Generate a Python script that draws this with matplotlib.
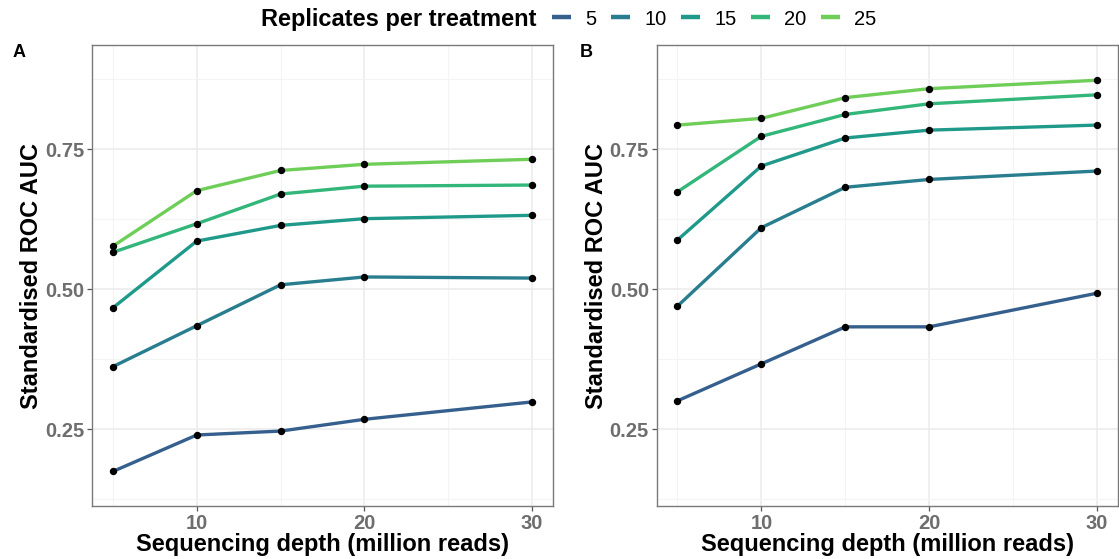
import numpy as np
import matplotlib
matplotlib.use("Agg")
import matplotlib.pyplot as plt
from matplotlib.lines import Line2D
from matplotlib.ticker import MultipleLocator
from matplotlib.offsetbox import HPacker

plt.rcParams['font.family'] = ['Liberation Sans', 'DejaVu Sans']

# sequencing depth (million reads)
depth = [5, 10, 15, 20, 30]
replicates = [5, 10, 15, 20, 25]

# standardised ROC AUC, panel A
auc_a = {
    5:  [0.175, 0.240, 0.247, 0.268, 0.299],
    10: [0.362, 0.435, 0.508, 0.522, 0.520],
    15: [0.467, 0.586, 0.614, 0.626, 0.632],
    20: [0.566, 0.617, 0.670, 0.684, 0.686],
    25: [0.577, 0.676, 0.712, 0.723, 0.732],
}
# standardised ROC AUC, panel B
auc_b = {
    5:  [0.301, 0.367, 0.433, 0.433, 0.493],
    10: [0.470, 0.610, 0.682, 0.696, 0.711],
    15: [0.588, 0.720, 0.770, 0.784, 0.793],
    20: [0.674, 0.773, 0.812, 0.831, 0.847],
    25: [0.793, 0.805, 0.842, 0.858, 0.873],
}

cols = [plt.cm.viridis(v) for v in np.linspace(0.3, 0.78, len(replicates))]

fig = plt.figure(figsize=(11.19, 5.59), dpi=100)
ax_a = fig.add_axes([0.0822, 0.094, 0.412, 0.8256])
ax_b = fig.add_axes([0.5867, 0.094, 0.4124, 0.8256])

def draw_panel(ax, data):
    for r, c in zip(replicates, cols):
        ax.plot(depth, data[r], color=c, lw=2.4, zorder=3, solid_capstyle='butt')
        ax.plot(depth, data[r], 'o', color='black', ms=4.3, zorder=4)
    ax.set_xlim(3.75, 31.25)
    ax.set_ylim(0.1125, 0.936)
    ax.xaxis.set_minor_locator(MultipleLocator(5))
    ax.yaxis.set_minor_locator(MultipleLocator(0.125))
    ax.set_xticks([10, 20, 30])
    ax.set_xticklabels(['10', '20', '30'])
    ax.set_yticks([0.25, 0.5, 0.75])
    ax.set_yticklabels(['0.25', '0.50', '0.75'])
    ax.grid(which='major', color='#ebebeb', lw=1.1, zorder=0)
    ax.grid(which='minor', color='#f4f4f4', lw=0.8, zorder=0)
    ax.tick_params(which='minor', length=0)
    ax.tick_params(which='major', length=3.5, width=0.9, color='#555555',
                   labelsize=14.5, labelcolor='#6e6e6e', pad=2)
    for lab in ax.get_xticklabels() + ax.get_yticklabels():
        lab.set_fontweight('bold')
    for s in ax.spines.values():
        s.set_color('#7a7a7a')
        s.set_linewidth(1.0)
    ax.set_xlabel('Sequencing depth (million reads)', fontsize=17,
                  fontweight='bold', labelpad=0)
    ax.set_ylabel('Standardised ROC AUC', fontsize=17, fontweight='bold',
                  labelpad=1.5)

draw_panel(ax_a, auc_a)
draw_panel(ax_b, auc_b)

fig.text(0.011, 0.898, 'A', fontsize=13, fontweight='bold')
fig.text(0.518, 0.898, 'B', fontsize=13, fontweight='bold')

handles = [Line2D([], [], color=c, lw=3.2, solid_capstyle='butt') for c in cols]
leg = fig.legend(handles, [str(r) for r in replicates], loc='center',
                 bbox_to_anchor=(0.5085, 0.966), ncol=5, frameon=False,
                 fontsize=14.5, handlelength=0.95, handletextpad=0.7,
                 columnspacing=0.72, title='Replicates per treatment',
                 title_fontproperties={'weight': 'bold', 'size': 17})
# title sits to the left of the keys
title_box = leg._legend_title_box
items_box = leg._legend_handle_box
leg._legend_box._children = [HPacker(pad=0, sep=11, children=[title_box, items_box], align='center')]

fig.savefig('out.png', dpi=100)
